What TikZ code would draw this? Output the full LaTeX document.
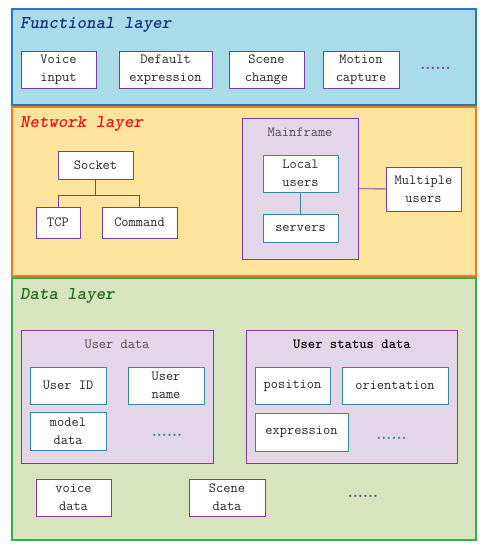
\documentclass[tikz,border=0pt]{standalone}
\usepackage{tikz}
\usetikzlibrary{positioning}
\definecolor{funcfill}{HTML}{A9DCE8}
\definecolor{funcline}{HTML}{2F72BE}
\definecolor{netfill}{HTML}{FFE59C}
\definecolor{netline}{HTML}{F37A22}
\definecolor{datafill}{HTML}{D7E4BD}
\definecolor{dataline}{HTML}{2DB24A}
\definecolor{grpfill}{HTML}{E2D6E8}
\definecolor{boxpurple}{HTML}{7B3AA0}
\definecolor{boxteal}{HTML}{3389A0}
\definecolor{titleblue}{HTML}{1A2F7A}
\definecolor{titlered}{HTML}{E8141B}
\definecolor{titlegreen}{HTML}{1C6E1C}
\newcommand{\boxtxt}{\fontsize{14}{18}\selectfont\ttfamily}
\newcommand{\headtxt}{\fontsize{18}{20}\selectfont\ttfamily\bfseries\itshape}
\newcommand{\dottxt}{\fontsize{16}{18}\selectfont\rmfamily\bfseries}
\tikzset{
  layer/.style={draw, line width=1.3pt, inner sep=0pt},
  layertitle/.style={anchor=west, inner sep=0pt, font=\headtxt},
  pbox/.style={draw=boxpurple, fill=white, line width=0.9pt, inner sep=0pt, align=center, text=black!85, font=\boxtxt},
  tbox/.style={pbox, draw=boxteal},
  group/.style={draw=boxpurple, fill=grpfill, line width=1pt, inner sep=0pt},
  grouptitle/.style={inner sep=0pt, text=black!70, font=\boxtxt},
  moredots/.style={inner sep=0pt, font=\dottxt}
}

\begin{document}
\begin{tikzpicture}[x=1pt, y=-1pt]
  \useasboundingbox (0,0) rectangle (484,550);
  % functional layer
  \node[layer, draw=funcline, fill=funcfill, minimum width=464pt, minimum height=96pt] (func) at (244,57) {};
  \node[layertitle, text=titleblue] (functitle) at (20,25) {Functional layer};
  \node[pbox, minimum width=75pt, minimum height=37pt] (voice) at (58.5,69.5) {Voice\\input};
  \node[pbox, minimum width=93pt, minimum height=37pt] (default) at (165.5,69.5) {Default\\expression};
  \node[pbox, minimum width=75pt, minimum height=37pt] (scene) at (266.5,69.5) {Scene\\change};
  \node[pbox, minimum width=76pt, minimum height=37pt] (motion) at (361,69.5) {Motion\\capture};
  \node[moredots, text=boxpurple] (funcdots) at (435.5,68) {......};
  % network layer
  \node[layer, draw=netline, fill=netfill, minimum width=464pt, minimum height=169pt] (net) at (244,191.5) {};
  \node[layertitle, text=titlered] (nettitle) at (20,124) {Network layer};
  \node[pbox, minimum width=75pt, minimum height=28pt] (socket) at (95.5,165) {Socket};
  \node[pbox, minimum width=44pt, minimum height=31pt] (tcp) at (58,222.5) {TCP};
  \node[pbox, minimum width=75pt, minimum height=31pt] (command) at (139.5,222.5) {Command};
  \coordinate (fork) at (95.5,195);
  \draw[boxpurple, line width=0.9pt] (socket) -- (fork);
  \draw[boxpurple, line width=0.9pt] (fork) -| (tcp);
  \draw[boxpurple, line width=0.9pt] (fork) -| (command);
  \node[group, minimum width=116pt, minimum height=141pt] (mainframe) at (300,188.5) {};
  \node[grouptitle] (mainlabel) at (300,132) {Mainframe};
  \node[tbox, minimum width=75pt, minimum height=37pt] (local) at (300.5,173.5) {Local\\users};
  \node[tbox, minimum width=75pt, minimum height=28pt] (servers) at (300.5,228) {servers};
  \draw[boxteal, line width=0.9pt] (local) -- (servers);
  \node[pbox, minimum width=75pt, minimum height=44pt] (multi) at (423.5,189) {Multiple\\users};
  \draw[boxpurple, line width=0.9pt] (mainframe) -- (multi);
  % data layer
  \node[layer, draw=dataline, fill=datafill, minimum width=464pt, minimum height=262pt] (data) at (244,409) {};
  \node[layertitle, text=titlegreen] (datatitle) at (20,296) {Data layer};
  \node[group, minimum width=192pt, minimum height=133pt] (userdata) at (117,396.5) {};
  \node[grouptitle] (userlabel) at (117,344) {User data};
  \node[tbox, minimum width=76pt, minimum height=37pt] (userid) at (68,385.5) {User ID};
  \node[tbox, minimum width=76pt, minimum height=37pt] (username) at (166,385.5) {User\\name};
  \node[tbox, minimum width=76pt, minimum height=38pt] (model) at (68,431) {model\\data};
  \node[moredots, text=boxteal] (userdots) at (167,435) {......};
  \node[group, minimum width=211pt, minimum height=133pt] (status) at (351.5,396.5) {};
  \node[grouptitle, text=black, font=\boxtxt\bfseries] (statuslabel) at (352,344) {User status data};
  \node[tbox, minimum width=75pt, minimum height=37pt] (position) at (292.5,385.5) {position};
  \node[tbox, minimum width=106pt, minimum height=37pt] (orient) at (395,385.5) {orientation};
  \node[tbox, minimum width=93pt, minimum height=38pt] (expr) at (301.5,432) {expression};
  \node[moredots, text=boxteal] (statusdots) at (391.5,438) {......};
  \node[pbox, minimum width=75pt, minimum height=37pt] (voicedata) at (73.5,497.5) {voice\\data};
  \node[pbox, minimum width=76pt, minimum height=37pt] (scenedata) at (227,497.5) {Scene\\data};
  \node[moredots, text=boxpurple] (datadots) at (363,496) {......};
\end{tikzpicture}
\end{document}
